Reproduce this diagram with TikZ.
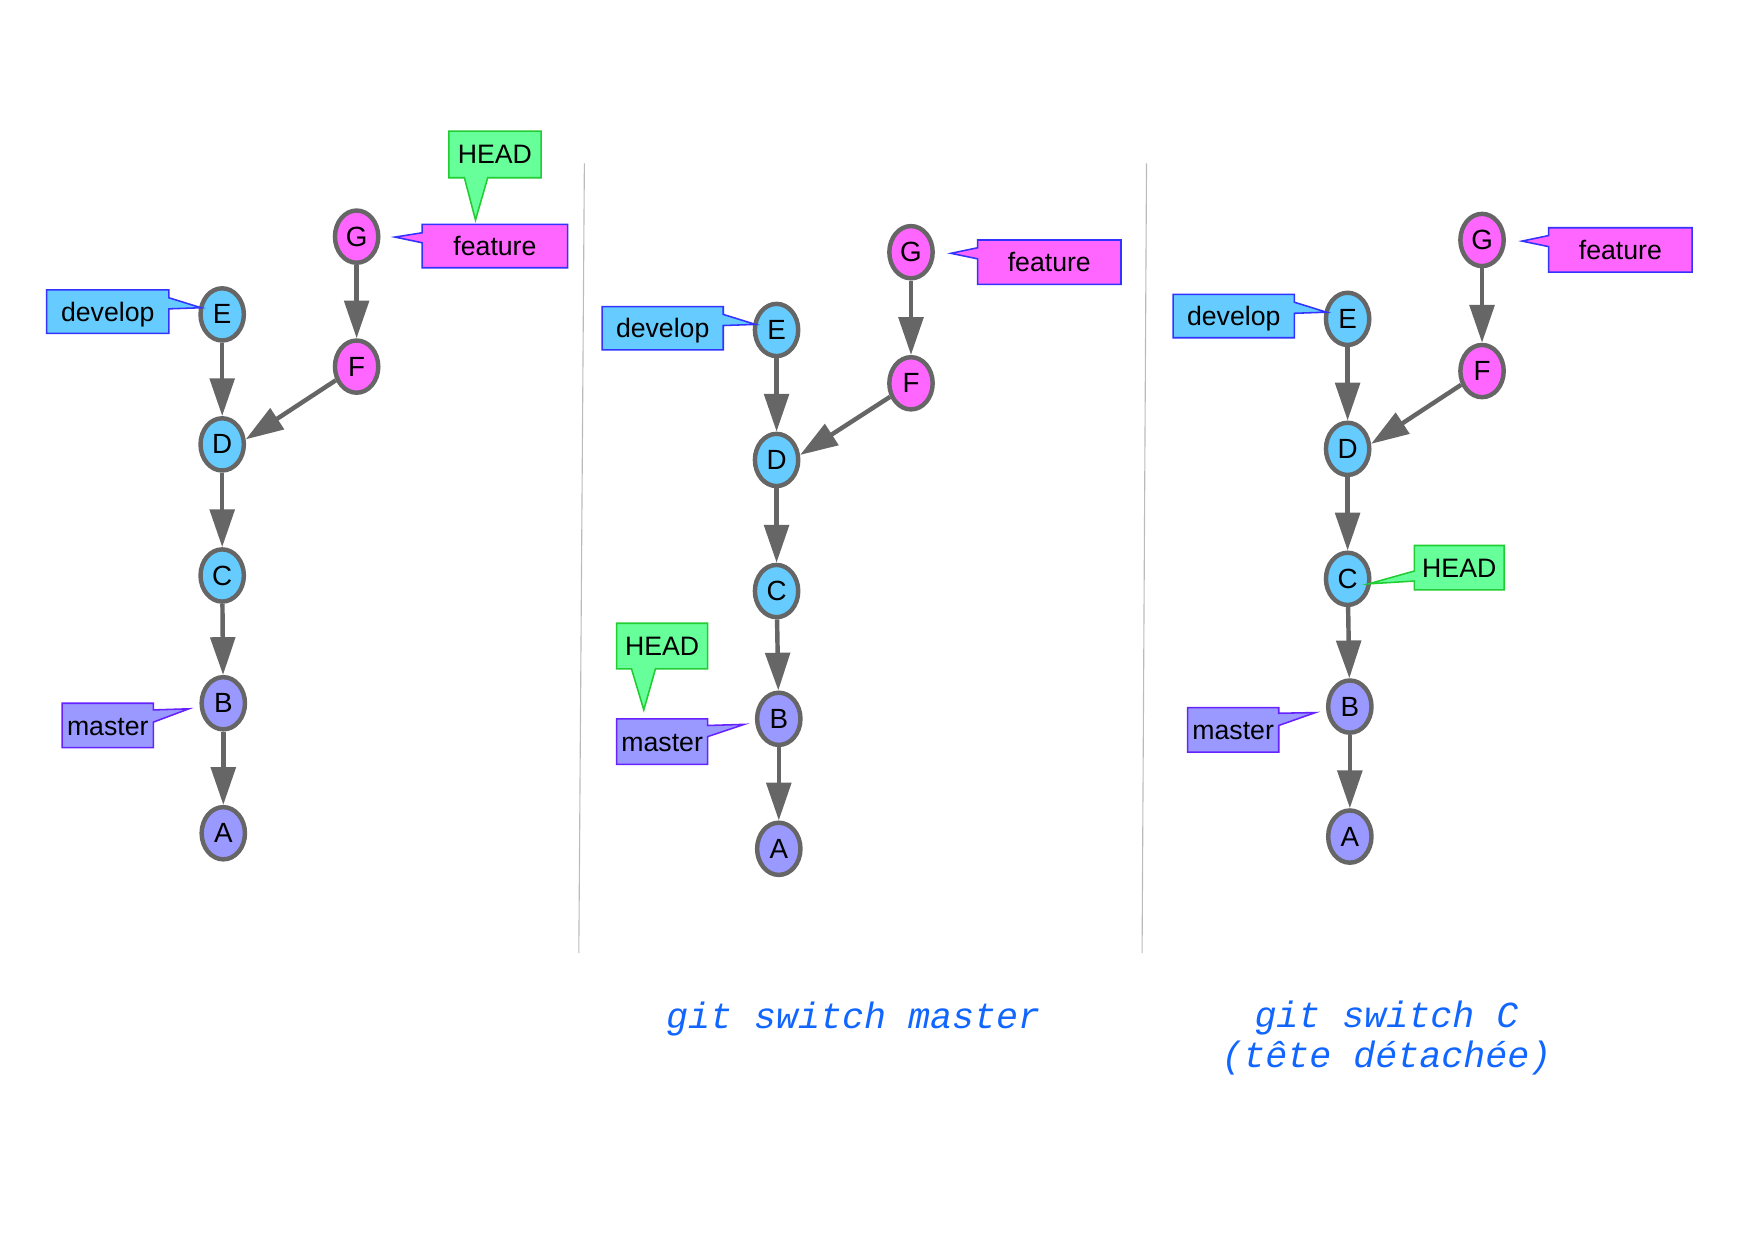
\documentclass[tikz,border=0pt]{standalone}
\usepackage{fontspec}
\setmainfont{Liberation Sans}
\newfontfamily\capfont{Liberation Mono}
\usetikzlibrary{arrows.meta,shapes.geometric}
\definecolor{cgray}{HTML}{666666}
\definecolor{nblue}{HTML}{66CCFF}
\definecolor{npink}{HTML}{FF66FF}
\definecolor{npurple}{HTML}{9999FF}
\definecolor{lblueb}{HTML}{3333FF}
\definecolor{lpurpb}{HTML}{6622FF}
\definecolor{lgreen}{HTML}{66FF99}
\definecolor{lgreenb}{HTML}{22CC33}
\definecolor{capblue}{HTML}{1166FF}
\definecolor{divgray}{HTML}{BBBBBB}
\begin{document}
\begin{tikzpicture}[x=0.5pt,y=-0.5pt,
  commit/.style={ellipse, draw=cgray, line width=2pt, minimum width=19.5pt,
    minimum height=23.5pt, inner sep=0pt, font=\fontsize{12.5}{14}\selectfont},
  cblue/.style={commit, fill=nblue},
  cpink/.style={commit, fill=npink},
  cpurple/.style={commit, fill=npurple},
  edge/.style={draw=cgray, line width=2pt, -{Triangle[length=17pt,width=11pt]}},
  lbltext/.style={inner sep=0pt, text height=8.6pt, text depth=0pt,
    font=\fontsize{12}{14}\selectfont},
  devbox/.style={fill=nblue, draw=lblueb, line width=0.7pt},
  featbox/.style={fill=npink, draw=lblueb, line width=0.7pt},
  mastbox/.style={fill=npurple, draw=lpurpb, line width=0.7pt},
  headbox/.style={fill=lgreen, draw=lgreenb, line width=0.7pt},
  caption/.style={text=capblue, align=center,
    font=\capfont\itshape\fontsize{16.5}{18}\selectfont},
  divider/.style={draw=divgray, line width=0.5pt}]
\useasboundingbox (0,0) rectangle (1568,1109);

% dividers
\draw[divider] (526,147) -- (521,858);
\draw[divider] (1032,147) -- (1028,858);

% ---------------- panel 1 ----------------
\node[cpink] (G1) at (321,213) {G};
\node[cpink] (F1) at (321,330) {F};
\node[cblue] (E1) at (200,283) {E};
\node[cblue] (D1) at (200,400) {D};
\node[cblue] (C1) at (200,518) {C};
\node[cpurple] (B1) at (201,633) {B};
\node[cpurple] (A1) at (201,750) {A};
\draw[edge] (G1) -- (F1);
\draw[edge] (E1) -- (D1);
\draw[edge] (F1) -- (D1.12);
\draw[edge] (D1) -- (C1);
\draw[edge] (C1) -- (B1);
\draw[edge] (B1) -- (A1);

\path[headbox] (404,118) -- (487,118) -- (487,160) -- (439,160) -- (428,198) -- (418,160) -- (404,160) -- cycle;
\node[lbltext] (head1) at (445.5,139) {HEAD};
\path[featbox] (380,202) -- (511,202) -- (511,241) -- (380,241) -- (380,218.5) -- (355.5,213.4) -- (380,209.5) -- cycle;
\node[lbltext] (feat1) at (445.5,221.5) {feature};
\path[devbox] (42,261) -- (152,261) -- (152,268) -- (181,277) -- (152,278) -- (152,300) -- (42,300) -- cycle;
\node[lbltext] (dev1) at (97,280.5) {develop};
\path[mastbox] (56,633) -- (138,633) -- (138,639) -- (170,638) -- (138,650) -- (138,673) -- (56,673) -- cycle;
\node[lbltext] (mast1) at (97,653) {master};

% ---------------- panel 2 ----------------
\node[cpink] (G2) at (820,227) {G};
\node[cpink] (F2) at (820,345) {F};
\node[cblue] (E2) at (699,297) {E};
\node[cblue] (D2) at (699,414) {D};
\node[cblue] (C2) at (699,532) {C};
\node[cpurple] (B2) at (701,647) {B};
\node[cpurple] (A2) at (701,764) {A};
\draw[edge] (G2) -- (F2);
\draw[edge] (E2) -- (D2);
\draw[edge] (F2) -- (D2.12);
\draw[edge] (D2) -- (C2);
\draw[edge] (C2) -- (B2);
\draw[edge] (B2) -- (A2);

\path[featbox] (880,216) -- (1009,216) -- (1009,256) -- (880,256) -- (880,233) -- (856,228) -- (880,223) -- cycle;
\node[lbltext] (feat2) at (944.5,236) {feature};
\path[devbox] (542,276) -- (651,276) -- (651,283) -- (680,292) -- (651,293) -- (651,315) -- (542,315) -- cycle;
\node[lbltext] (dev2) at (596.5,295.5) {develop};
\path[headbox] (555,561) -- (637,561) -- (637,602) -- (590,602) -- (579.5,639) -- (568.4,602) -- (555,602) -- cycle;
\node[lbltext] (head2) at (596,581.5) {HEAD};
\path[mastbox] (555,647) -- (637,647) -- (637,653) -- (670,652) -- (637,663) -- (637,688) -- (555,688) -- cycle;
\node[lbltext] (mast2) at (596,667.5) {master};

% ---------------- panel 3 ----------------
\node[cpink] (G3) at (1334,216) {G};
\node[cpink] (F3) at (1334,334) {F};
\node[cblue] (E3) at (1213,287) {E};
\node[cblue] (D3) at (1213,404) {D};
\node[cblue] (C3) at (1213,521) {C};
\node[cpurple] (B3) at (1215,636) {B};
\node[cpurple] (A3) at (1215,753) {A};
\draw[edge] (G3) -- (F3);
\draw[edge] (E3) -- (D3);
\draw[edge] (F3) -- (D3.12);
\draw[edge] (D3) -- (C3);
\draw[edge] (C3) -- (B3);
\draw[edge] (B3) -- (A3);

\path[featbox] (1394,205) -- (1523,205) -- (1523,245) -- (1394,245) -- (1394,222) -- (1370,217) -- (1394,212) -- cycle;
\node[lbltext] (feat3) at (1458.5,225) {feature};
\path[devbox] (1056,265) -- (1165,265) -- (1165,272) -- (1194,281) -- (1165,282) -- (1165,304) -- (1056,304) -- cycle;
\node[lbltext] (dev3) at (1110.5,284.5) {develop};
\path[headbox] (1273,491) -- (1354,491) -- (1354,531) -- (1273,531) -- (1273,523) -- (1232,525.5) -- (1273,514) -- cycle;
\node[lbltext] (head3) at (1313.5,511) {HEAD};
\path[mastbox] (1069,637) -- (1151,637) -- (1151,642) -- (1184,641.4) -- (1151,653) -- (1151,677) -- (1069,677) -- cycle;
\node[lbltext] (mast3) at (1110,657) {master};

% captions
\node[caption] (cap2) at (768,917) {git switch master};
\node[caption] (cap3) at (1248,934) {git switch C\\(tête détachée)};
\end{tikzpicture}
\end{document}
